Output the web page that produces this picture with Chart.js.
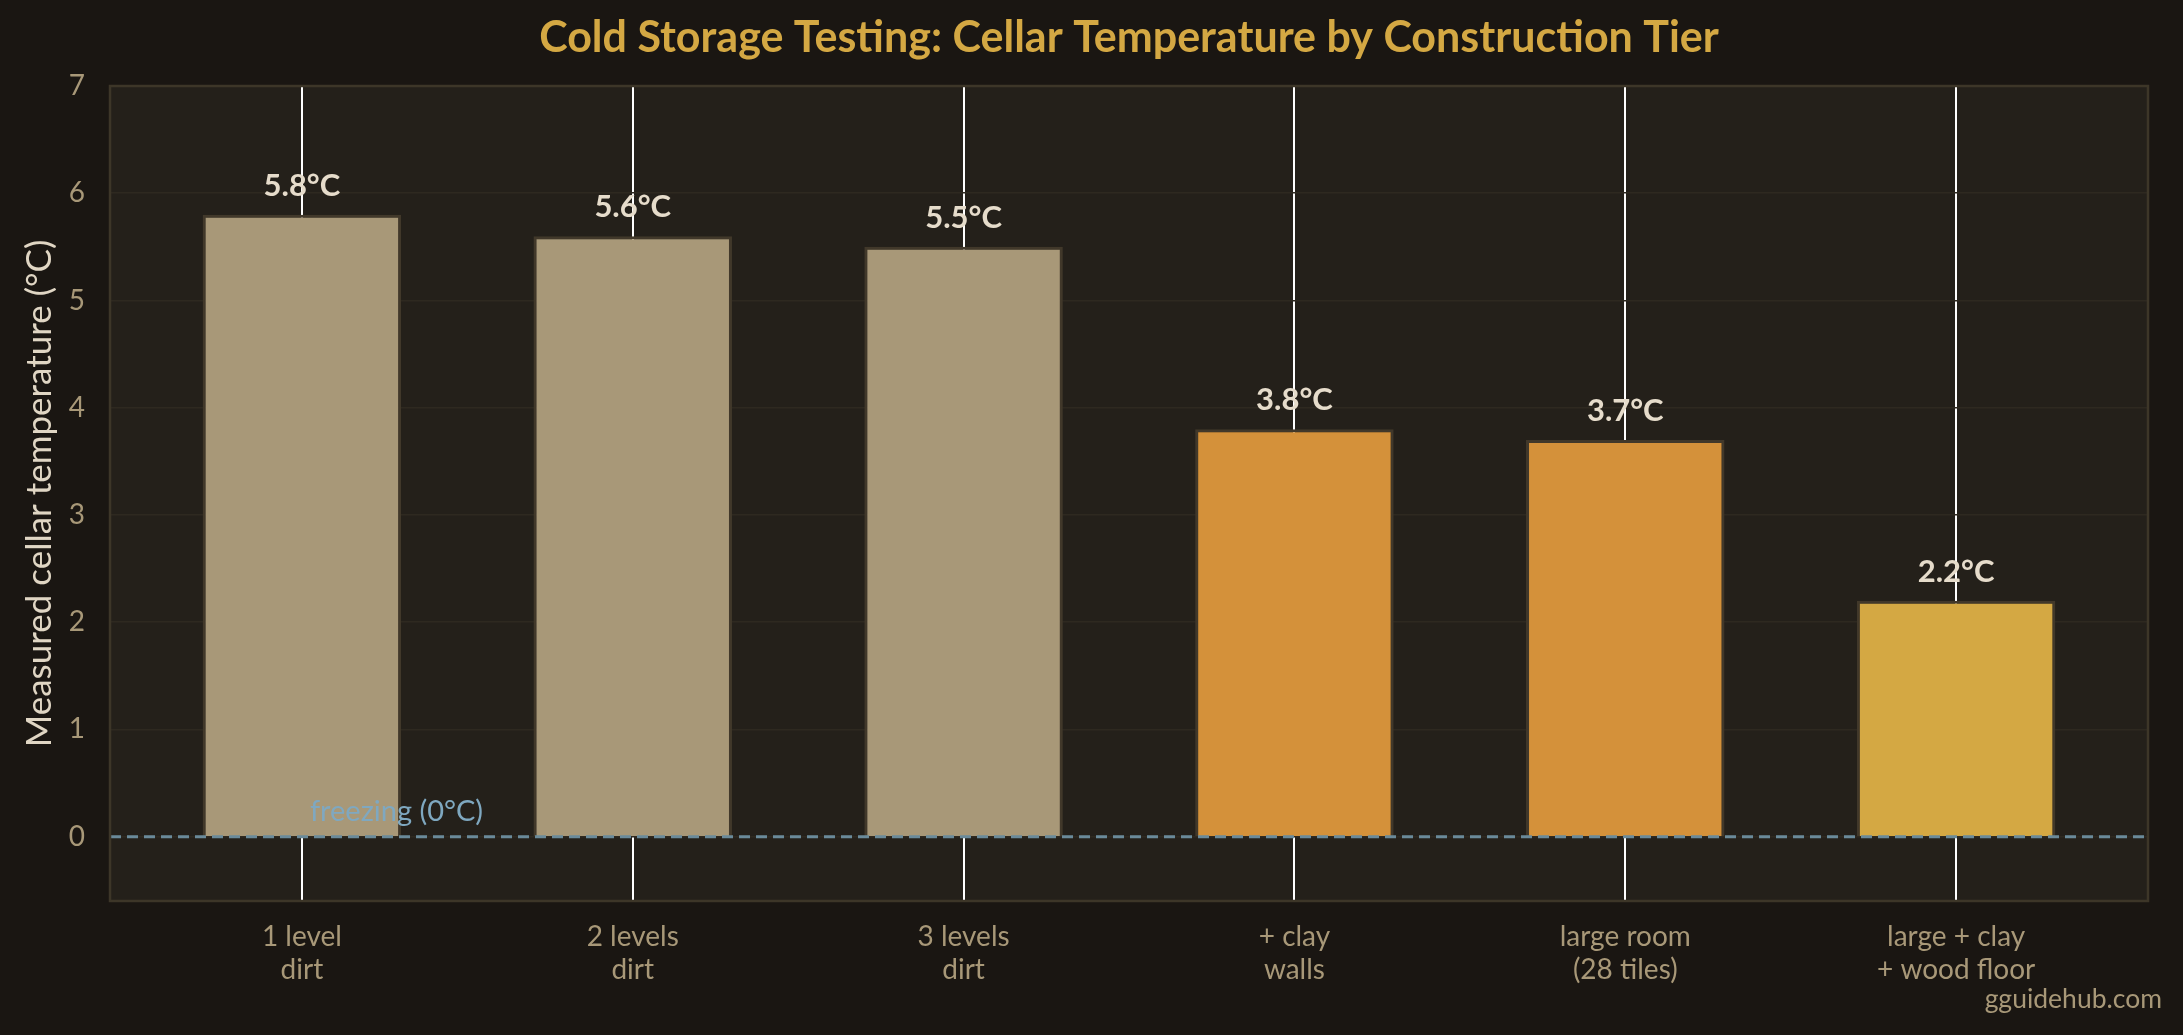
<!DOCTYPE html>
<html>
<head>
<meta charset="utf-8">
<script src="https://cdn.jsdelivr.net/npm/chart.js@4"></script>
<style>
  html, body { margin: 0; padding: 0; background: #1a1612; }
  #wrap { width: 2183px; height: 1035px; }
</style>
</head>
<body>
<div id="wrap"><canvas id="chart"></canvas></div>
<script>
// data
const categories = [
  ['1 level', 'dirt'],
  ['2 levels', 'dirt'],
  ['3 levels', 'dirt'],
  ['+ clay', 'walls'],
  ['large room', '(28 tiles)'],
  ['large + clay', '+ wood floor']
];
const temps = [5.8, 5.6, 5.5, 3.8, 3.7, 2.2];
const yTicks = [0, 1, 2, 3, 4, 5, 6, 7];

const barColors = ['#a89878', '#a89878', '#a89878', '#d4913a', '#d4913a', '#d4a843'];
const FONT = 'Lato, "Noto Sans", sans-serif';

// fond, titres, ligne de gel, etiquettes
const decor = {
  id: 'decor',
  beforeDraw(chart) {
    const { ctx, chartArea: a } = chart;
    ctx.save();
    ctx.fillStyle = '#24201a';
    ctx.fillRect(a.left, a.top, a.right - a.left, a.bottom - a.top);
    ctx.restore();
  },
  afterDatasetsDraw(chart) {
    const { ctx, chartArea: a, scales } = chart;
    const y0 = scales.y.getPixelForValue(0);
    ctx.save();
    // ligne 0°C
    ctx.strokeStyle = '#6a8a9a';
    ctx.lineWidth = 3;
    ctx.setLineDash([11, 6]);
    ctx.beginPath();
    ctx.moveTo(a.left, y0);
    ctx.lineTo(a.right, y0);
    ctx.stroke();
    ctx.setLineDash([]);
    ctx.fillStyle = '#7fa8c0';
    ctx.font = '29px ' + FONT;
    ctx.textAlign = 'left';
    ctx.textBaseline = 'alphabetic';
    ctx.fillText('freezing (0°C)', scales.x.getPixelForValue(0) + 8, y0 - 16);

    // valeurs au-dessus des barres
    ctx.fillStyle = '#e6dccb';
    ctx.font = 'bold 31px ' + FONT;
    ctx.textAlign = 'center';
    temps.forEach((v, i) => {
      const x = scales.x.getPixelForValue(i);
      const y = scales.y.getPixelForValue(v);
      ctx.fillText(v.toFixed(1) + '°C', x, y - 19);
    });
    ctx.restore();
  },
  afterDraw(chart) {
    const { ctx, chartArea: a } = chart;
    ctx.save();
    ctx.strokeStyle = '#3d3628';
    ctx.lineWidth = 2.5;
    ctx.strokeRect(a.left, a.top, a.right - a.left, a.bottom - a.top);

    ctx.fillStyle = '#d4a843';
    ctx.font = 'bold 43px ' + FONT;
    ctx.textAlign = 'center';
    ctx.textBaseline = 'middle';
    ctx.fillText('Cold Storage Testing: Cellar Temperature by Construction Tier', (a.left + a.right) / 2, 38);

    ctx.translate(40, (a.top + a.bottom) / 2);
    ctx.rotate(-Math.PI / 2);
    ctx.fillStyle = '#e0d6c4';
    ctx.font = '35px ' + FONT;
    ctx.fillText('Measured cellar temperature (°C)', 0, 0);
    ctx.restore();

    ctx.save();
    ctx.fillStyle = '#a89878';
    ctx.font = '26.5px ' + FONT;
    ctx.textAlign = 'right';
    ctx.textBaseline = 'alphabetic';
    ctx.fillText('gguidehub.com', 2162, 1008);
    ctx.restore();
  }
};

const ctx = document.getElementById('chart').getContext('2d');
const chart = new Chart(ctx, {
  type: 'bar',
  data: {
    datasets: [{
      data: temps.map((v, i) => ({ x: i, y: v })),
      backgroundColor: barColors,
      borderColor: '#41382a',
      borderWidth: 3,
      barPercentage: 0.6,
      categoryPercentage: 1
    }]
  },
  options: {
    responsive: true,
    maintainAspectRatio: false,
    animation: false,
    layout: { padding: { top: 86, right: 35, left: 0, bottom: 0 } },
    plugins: { legend: { display: false }, tooltip: { enabled: false } },
    scales: {
      x: {
        type: 'linear',
        min: -0.58,
        max: 5.58,
        offset: false,
        afterBuildTicks: (s) => { s.ticks = categories.map((c, i) => ({ value: i })); },
        afterFit: (s) => { s.height = 134; },
        ticks: {
          callback: (v) => categories[v],
          color: '#a89878',
          font: { family: FONT, size: 28 },
          padding: 19,
          maxRotation: 0,
          autoSkip: false
        },
        grid: { color: '#ffffff', lineWidth: 2, drawTicks: false, offset: false },
        border: { display: false }
      },
      y: {
        min: -0.6,
        max: 7,
        afterBuildTicks: (s) => { s.ticks = yTicks.map(v => ({ value: v })); },
        afterFit: (s) => { s.width = 110; },
        ticks: {
          color: '#a89878',
          font: { family: FONT, size: 28 },
          padding: 25
        },
        grid: { color: '#2e2920', lineWidth: 1.5, drawTicks: false },
        border: { display: false }
      }
    }
  },
  plugins: [decor]
});
</script>
</body>
</html>
